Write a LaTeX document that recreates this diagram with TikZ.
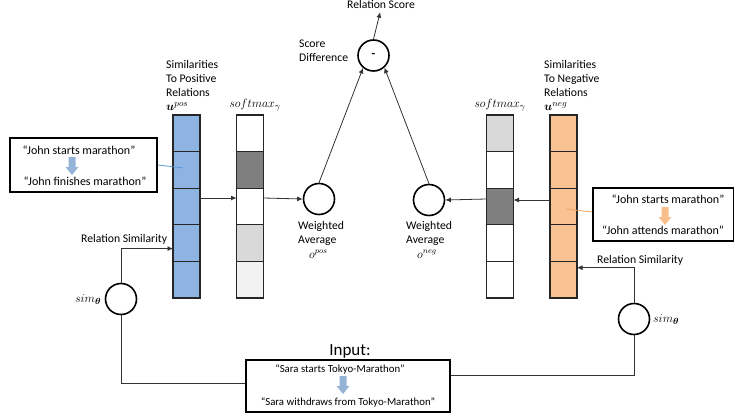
\documentclass[tikz,border=0pt]{standalone}
\usepackage{amsmath,bm}
\usepackage{fontspec}
\setmainfont{Carlito}
\usetikzlibrary{arrows.meta,calc}
\definecolor{bluec}{HTML}{8EB4E3}
\definecolor{orangec}{HTML}{F8C293}
\definecolor{bluea}{HTML}{95B3D7}
\definecolor{orangea}{HTML}{F9BE8C}
\definecolor{dgray}{HTML}{7F7F7F}
\definecolor{lgray}{HTML}{D9D9D9}
\definecolor{vlgray}{HTML}{F2F2F2}
\definecolor{blueline}{HTML}{5B9BD5}
\definecolor{orangeline}{HTML}{F4A460}
\tikzset{
  cell/.style={draw=black!85, line width=1.1pt, minimum width=27pt, minimum height=36.6pt, inner sep=0pt, outer sep=0pt},
  circ/.style={circle, draw, line width=1.6pt, minimum size=31pt, inner sep=0pt},
  conn/.style={line width=0.8pt, draw=black!80},
  arr/.style={conn, -{Latex[length=5.5pt,width=5pt]}},
  lbl/.style={font=\fontsize{11.7}{14}\selectfont, inner sep=0pt, align=left},
  mlbl/.style={font=\fontsize{13}{14}\selectfont, inner sep=0pt},
  slbl/.style={font=\fontsize{12}{14}\selectfont, inner sep=0pt},
  boxtxt/.style={font=\fontsize{12}{14}\selectfont, inner sep=0pt},
  intxt/.style={font=\fontsize{10.8}{13}\selectfont, inner sep=0pt},
  textbox/.style={draw, line width=1.8pt, inner sep=0pt},
  downarr/.pic={\fill[pic actions] (-3.5,0) -- (3.5,0) -- (3.5,10) -- (6.5,10) -- (0,18) -- (-6.5,10) -- (-3.5,10) -- cycle;}
}
\begin{document}
\begin{tikzpicture}[x=1pt,y=-1pt]
\useasboundingbox (0,0) rectangle (735,414);
% columns
\foreach \i/\c in {1/bluec,2/bluec,3/bluec,4/bluec,5/bluec}
  \node[cell, fill=\c] (pos\i) at (186.5,{115+36.6*(\i-0.5)}) {};
\foreach \i/\c in {1/white,2/dgray,3/white,4/lgray,5/vlgray}
  \node[cell, fill=\c] (spos\i) at (250,{115+36.6*(\i-0.5)}) {};
\foreach \i/\c in {1/lgray,2/white,3/dgray,4/white,5/white}
  \node[cell, fill=\c] (sneg\i) at (500,{115+36.6*(\i-0.5)}) {};
\foreach \i/\c in {1/orangec,2/orangec,3/orangec,4/orangec,5/orangec}
  \node[cell, fill=\c] (neg\i) at (563.5,{115+36.6*(\i-0.5)}) {};
% circles
\node[circ] (wpos) at (319,199) {};
\node[circ] (wneg) at (429,200) {};
\node[circ] (minus) at (373.5,55.5) {\fontsize{12}{13}\selectfont\bfseries -};
\node[circ] (simL) at (121,299) {};
\node[circ] (simR) at (634,319) {};
% boxes
\node[textbox, minimum width=147pt, minimum height=54pt] (lbox) at (83.5,165) {};
\node[textbox, minimum width=140.5pt, minimum height=53pt] (rbox) at (663.25,214.5) {};
\node[textbox, minimum width=204pt, minimum height=52pt] (input) at (348,386) {};
% labels
\node[lbl, anchor=base west] (lpos) at (166,97) {Similarities\\To Positive\\Relations};
\node[mlbl, anchor=base west] (upos) at (166,111) {$\bm{u}^{pos}$};
\node[lbl, anchor=base west] (lneg) at (544,97) {Similarities\\To Negative\\Relations};
\node[mlbl, anchor=base west] (uneg) at (544,111) {$\bm{u}^{neg}$};
\node[mlbl, anchor=base] (smpos) at (255,108) {$softmax_{\gamma}$};
\node[mlbl, anchor=base] (smneg) at (500,108) {$softmax_{\gamma}$};
\node[lbl, anchor=base west] (sdiff) at (299,62) {Score\\Difference};
\node[lbl, anchor=base] (rscore) at (381,8.5) {Relation Score};
\node[lbl, anchor=base west] (wapos) at (298,243) {Weighted\\Average};
\node[slbl, anchor=base west] (opos) at (309,258) {$o^{pos}$};
\node[lbl, anchor=base west] (waneg) at (406,243) {Weighted\\Average};
\node[slbl, anchor=base west] (oneg) at (417,258) {$o^{neg}$};
\node[lbl, anchor=base west] (rsimL) at (81,242) {Relation Similarity};
\node[lbl, anchor=base west] (rsimR) at (597,263) {Relation Similarity};
\node[mlbl, anchor=base west] (thL) at (75,302) {$sim_{\bm{\theta}}$};
\node[mlbl, anchor=base west] (thR) at (653,322) {$sim_{\bm{\theta}}$};
% box texts
\node[boxtxt, anchor=base] (l1) at (79,155) {“John starts marathon”};
\node[boxtxt, anchor=base] (l2) at (85,185) {“John finishes marathon”};
\node[boxtxt, anchor=base] (r1) at (668,203) {“John starts marathon”};
\node[boxtxt, anchor=base] (r2) at (663,234) {“John attends marathon”};
\node[intxt, anchor=base] (i1) at (340,372) {“Sara starts Tokyo-Marathon”};
\node[intxt, anchor=base] (i2) at (348,405) {“Sara withdraws from Tokyo-Marathon”};
\node[inner sep=0pt, anchor=base, font=\fontsize{17}{19}\selectfont] (inlbl) at (350,355) {Input:};
\pic[fill=bluea] at (72,157) {downarr};
\pic[fill=orangea] at (665,207) {downarr};
\pic[fill=bluea] at (343,376) {downarr};
% connectors
\draw[arr] ([yshift=8.5pt]pos3.east) -- ([yshift=8.5pt]spos3.west);
\draw[arr] ([yshift=8.5pt]spos3.east) -- (wpos.west);
\draw[arr] ([yshift=6.5pt]neg3.west) -- ([yshift=6.5pt]sneg3.east);
\draw[arr] ([yshift=7.5pt]sneg3.west) -- (wneg.east);
\draw[arr] (wpos.north) -- (minus.-130);
\draw[arr] (wneg.north) -- (minus.-48);
\draw[arr, shorten >=3.5pt] (minus.north) -- (rscore.south);
\draw[arr] (simL.north) |- ([yshift=-5.5pt]pos4.west);
\draw[arr] (simR.north) |- ([yshift=12pt]neg5.east);
\draw[conn] (simL.south) |- ([yshift=3pt]input.west);
\draw[conn] (simR.south) |- ([yshift=11pt]input.east);
\draw[blueline, line width=0.8pt] (lbox.east) -- ([xshift=-3.5pt,yshift=2pt]pos2.center);
\draw[orangeline, line width=0.8pt] ([yshift=2.5pt]rbox.west) -- ([xshift=2.5pt,yshift=-2.5pt]neg3.center);
\end{tikzpicture}
\end{document}
